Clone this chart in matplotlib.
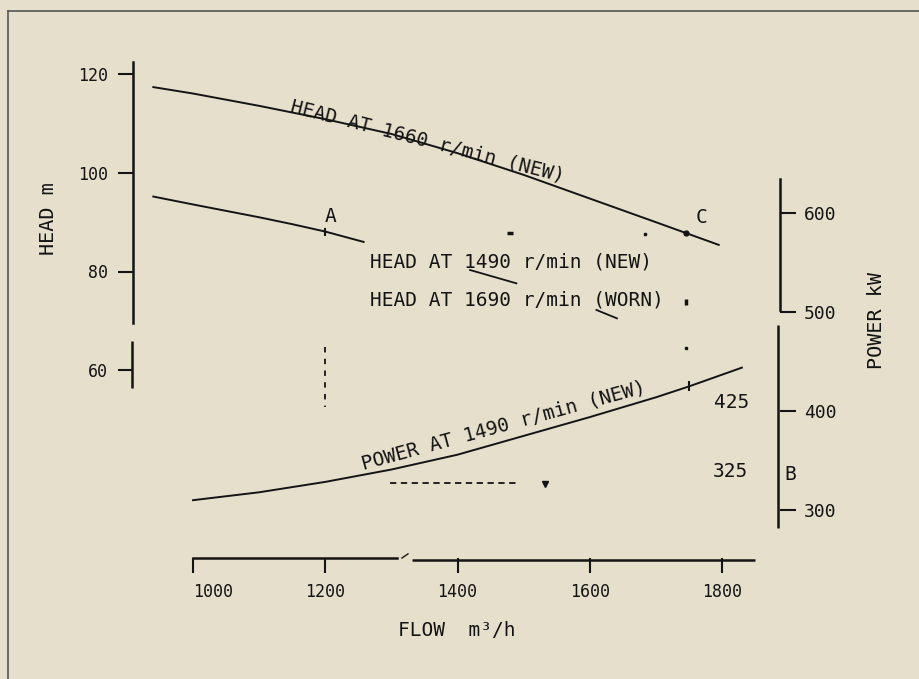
import matplotlib
matplotlib.use("Agg")
import matplotlib.pyplot as plt
from matplotlib.lines import Line2D

# ---------------- data ----------------
flow_ticks = [1000, 1200, 1400, 1600, 1800]
head_ticks = [60, 80, 100, 120]
power_ticks = [300, 400, 500, 600]

flow_head_1660 = [940, 1000, 1100, 1200, 1300, 1400, 1500, 1600, 1700, 1795]
head_1660 = [117.4, 116.1, 113.6, 110.9, 107.9, 104.0, 99.6, 94.8, 90.0, 85.4]

flow_head_1490 = [940, 1000, 1050, 1100, 1150, 1200, 1258]
head_1490 = [95.2, 93.6, 92.3, 91.0, 89.6, 88.1, 86.0]

flow_power = [1000, 1100, 1200, 1300, 1400, 1500, 1600, 1700, 1750, 1830]
power_1490 = [310, 318, 328.5, 341, 356, 375, 394, 414, 425, 444]

point_a_flow, point_a_head = [1200], [88.1]
point_c_flow, point_c_head = [1745], [87.9]
point_p_flow, point_p_power = [1750], [425]

ref_v_flow = [1200, 1200]
ref_v_head = [64.7, 52.6]
ref_h_flow = [1298, 1492]
ref_h_power = [327, 327]
ref_h_end_flow, ref_h_end_power = [1532], [326.5]

# small stray marks in the drawing
stray_dash_flow, stray_dash_head = [1479], [87.9]
stray_dot_flow, stray_dot_head = [1684, 1745], [87.7, 64.5]
stray_bar_flow, stray_bar_head = [1745], [73.9]
underline_1490_flow, underline_1490_head = [1419, 1489], [80.3, 77.6]
underline_worn_flow, underline_worn_head = [1610, 1641], [72.2, 70.5]

# ---------------- layout helpers (pixel -> data) ----------------
W, H = 920, 679
def q_of(px):   # flow from x pixel
    return 1000 + (px - 193) / 0.6613
def h_of(py):   # head from y pixel
    return 120 - (py - 74.3) / 4.93
def p_of(py):   # power from y pixel
    return 600 - (py - 213.3) / 0.9893

BG = "#e6dfcc"
INK = "#141414"
FONT = "DejaVu Sans Mono"
plt.rcParams["font.family"] = [FONT, "DejaVu Sans"]

fig = plt.figure(figsize=(9.2, 6.79), dpi=100, facecolor=BG)
ax = fig.add_axes([133 / W, (H - 558) / H, (780 - 133) / W, (558 - 40) / H])
ax.patch.set_visible(False)
ax.set_xlim(q_of(133), q_of(780))
ax.set_ylim(h_of(558), h_of(40))

ax2 = ax.twinx()
ax2.set_ylim(p_of(558), p_of(40))
ax2.patch.set_visible(False)

# spines
for s in ["top", "right"]:
    ax.spines[s].set_visible(False)
for s in ["top", "left", "bottom"]:
    ax2.spines[s].set_visible(False)
for sp in [ax.spines["left"], ax.spines["bottom"], ax2.spines["right"]]:
    sp.set_linewidth(1.8)
    sp.set_color(INK)
ax.spines["left"].set_bounds(h_of(323.3), h_of(62))
ax.spines["bottom"].set_bounds(1000, q_of(397))
ax2.spines["right"].set_bounds(p_of(310), p_of(179))

# broken axis continuations
ax.plot([-0.002, -0.002], [h_of(341), h_of(387.7)], transform=ax.get_yaxis_transform(),
        color=INK, lw=1.8, clip_on=False, solid_capstyle="butt")
ax2.plot([0.9964, 0.9964], [p_of(325), p_of(528.3)], transform=ax2.get_yaxis_transform(),
         color=INK, lw=1.8, clip_on=False, solid_capstyle="butt")
ax.plot([q_of(412), q_of(755)], [-0.004, -0.004], transform=ax.get_xaxis_transform(),
        color=INK, lw=1.8, clip_on=False, solid_capstyle="butt")
ax.plot([q_of(402), q_of(408)], [0.0, 0.008], transform=ax.get_xaxis_transform(),
        color=INK, lw=1.0, clip_on=False)

# ticks
ax.set_xticks(flow_ticks)
ax.set_xticklabels([str(v) for v in flow_ticks])
ax.set_yticks(head_ticks)
ax.set_yticklabels([str(v) for v in head_ticks])
ax2.set_yticks(power_ticks)
ax2.set_yticklabels([str(v) for v in power_ticks])
ax.tick_params(axis="x", direction="out", length=10.8, width=1.5, pad=7.5,
               labelsize=12, colors=INK)
ax.tick_params(axis="y", direction="out", length=11, width=1.5, pad=7,
               labelsize=12, colors=INK)
ax2.tick_params(axis="y", direction="out", length=11.5, width=1.5, pad=5.5,
                labelsize=13, colors=INK)
ax.get_xticklabels()[0].set_horizontalalignment("left")

# axis labels
ax.set_xlabel("FLOW  m\u00b3/h", fontsize=14, color=INK)
ax.xaxis.set_label_coords(0.5, -0.121)
ax.set_ylabel("HEAD m", fontsize=14.5, color=INK)
ax.yaxis.set_label_coords(-0.116, 0.656)
ax2.set_ylabel("POWER kW", fontsize=14.5, color=INK)
ax2.yaxis.set_label_coords(1.134, 0.459)

# curves
ax.plot(flow_head_1660, head_1660, color=INK, lw=1.4)
ax.plot(flow_head_1490, head_1490, color=INK, lw=1.4)
ax2.plot(flow_power, power_1490, color=INK, lw=1.4)

# points on curves
ax.plot(point_a_flow, point_a_head, ls="none", marker="|", ms=6, mew=1.5, color=INK)
ax.plot(point_c_flow, point_c_head, ls="none", marker="o", ms=3.5, color=INK)
ax2.plot(point_p_flow, point_p_power, ls="none", marker="|", ms=7, mew=1.5, color=INK)

# reference (dashed) lines
ax.plot(ref_v_flow, ref_v_head, color=INK, lw=1.3, ls=(0, (3, 3.5)))
ax2.plot(ref_h_flow, ref_h_power, color=INK, lw=1.3, ls=(0, (3.5, 2.5)))
ax2.plot(ref_h_end_flow, ref_h_end_power, ls="none", marker="v", ms=4, color=INK)

# stray marks
ax.plot(stray_dash_flow, stray_dash_head, ls="none", marker="_", ms=5, mew=2.5, color=INK)
ax.plot(stray_dot_flow, stray_dot_head, ls="none", marker="s", ms=1.6, color=INK)
ax.plot(stray_bar_flow, stray_bar_head, ls="none", marker="|", ms=5, mew=2.5, color=INK)
ax.plot(underline_1490_flow, underline_1490_head, color=INK, lw=1.3)
ax.plot(underline_worn_flow, underline_worn_head, color=INK, lw=1.3)

# annotations
txt = dict(color=INK, fontsize=14, family=FONT)
ax.text(q_of(426), h_of(146.5), "HEAD AT 1660 r/min (NEW)", rotation=-14.4,
        rotation_mode="anchor", ha="center", va="baseline", **txt)
ax.text(q_of(370), h_of(267.3), "HEAD AT 1490 r/min (NEW)", ha="left", va="baseline", **txt)
ax.text(q_of(370), h_of(305), "HEAD AT 1690 r/min (WORN)", ha="left", va="baseline", **txt)
ax2.text(q_of(505), p_of(431), "POWER AT 1490 r/min (NEW)", rotation=15.3,
         rotation_mode="anchor", ha="center", va="baseline", **txt)
ax.text(q_of(331), h_of(221.7), "A", ha="center", va="baseline", **txt)
ax.text(q_of(702), h_of(223.3), "C", ha="center", va="baseline", **txt)
ax2.text(q_of(732), p_of(408.3), "425", ha="center", va="baseline", **txt)
ax2.text(q_of(730), p_of(476.7), "325", ha="center", va="baseline", **txt)
ax2.text(q_of(790), p_of(480), "B", ha="center", va="baseline", **txt)

# page frame (top and left edges visible in the scan)
fig.add_artist(Line2D([8 / W, 8 / W], [0, 1 - 11 / H], transform=fig.transFigure,
                      color="#555555", lw=1.2))
fig.add_artist(Line2D([8 / W, 1], [1 - 11 / H, 1 - 11 / H], transform=fig.transFigure,
                      color="#555555", lw=1.2))

fig.savefig("out.png", dpi=100, facecolor=BG)
